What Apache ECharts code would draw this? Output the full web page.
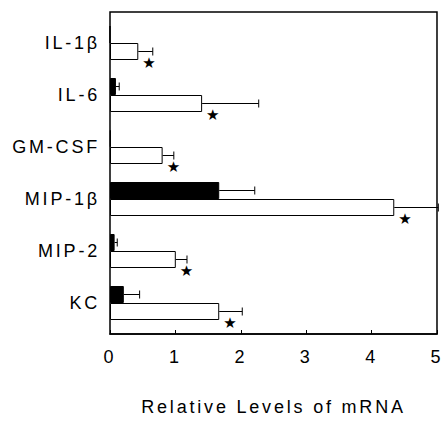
<!DOCTYPE html>
<html>
<head>
<meta charset="utf-8">
<script src="https://cdn.jsdelivr.net/npm/echarts@6/dist/echarts.min.js"></script>
<style>
  html, body { margin: 0; padding: 0; background: #fff; }
  #chart { width: 445px; height: 421px; }
  /* the figure uses widely spaced type */
  #chart text { letter-spacing: 2.8px; }
</style>
</head>
<body>
<div id="chart"></div>
<script>
var categories = ['IL-1β', 'IL-6', 'GM-CSF', 'MIP-1β', 'MIP-2', 'KC'];
// black bars (control) and white bars (treated), with error (SD)
var blackValues = [0, 0.09, 0.01, 1.66, 0.07, 0.21];
var blackErrors = [0, 0.05, 0, 0.54, 0.04, 0.24];
var whiteValues = [0.43, 1.40, 0.80, 4.32, 1.00, 1.66];
var whiteErrors = [0.22, 0.86, 0.17, 0.67, 0.17, 0.35];
var significant = [true, true, true, true, true, true];
var xTicks = [0, 1, 2, 3, 4, 5];

var FONT = '"Liberation Sans", Arial, sans-serif';
var BAR_W = 17;

function errData(vals, errs) {
  var out = [];
  for (var i = 0; i < vals.length; i++) {
    if (errs[i] > 0) out.push([i, vals[i], vals[i] + errs[i]]);
  }
  return out;
}

function errRender(offset) {
  return function (params, api) {
    var c = api.value(0);
    var p0 = api.coord([api.value(1), c]);
    var p1 = api.coord([api.value(2), c]);
    var y = p0[1] + offset;
    var st = { stroke: '#000', lineWidth: 1 };
    return {
      type: 'group',
      children: [
        { type: 'line', shape: { x1: p0[0], y1: y, x2: p1[0], y2: y }, style: st },
        { type: 'line', shape: { x1: p1[0], y1: y - 4, x2: p1[0], y2: y + 4 }, style: st }
      ]
    };
  };
}

var chart = echarts.init(document.getElementById('chart'), null, { renderer: 'svg' });

var option = {
  animation: false,
  backgroundColor: '#fff',
  grid: [
    // frame with the value axis
    { left: 110, right: 6, top: 12, bottom: 82, show: true, borderColor: '#000', borderWidth: 1.5 },
    // bars
    { left: 110, right: 6, top: 17, bottom: 92 }
  ],
  xAxis: [
    {
      gridIndex: 0, type: 'value', min: 0, max: 5, interval: 1,
      axisLine: { show: true, lineStyle: { color: '#000', width: 1.5 } },
      axisTick: { show: true, inside: true, length: 4, lineStyle: { color: '#000' } },
      axisLabel: {
        color: '#000', fontFamily: FONT, fontSize: 18, margin: 14,
        formatter: function (v) { return xTicks.indexOf(v) >= 0 ? String(v) : ''; }
      },
      splitLine: { show: false },
      name: 'Relative Levels of mRNA', nameLocation: 'middle', nameGap: 64,
      nameTextStyle: { color: '#000', fontFamily: FONT, fontSize: 18 }
    },
    { gridIndex: 1, type: 'value', min: 0, max: 5, show: false }
  ],
  yAxis: [
    { gridIndex: 0, type: 'value', min: 0, max: 1, show: false },
    {
      gridIndex: 1, type: 'category', data: categories, inverse: true,
      axisLine: { show: false }, axisTick: { show: false },
      axisLabel: { color: '#000', fontFamily: FONT, fontSize: 18, margin: 10, padding: [6, 0, 0, 0] }
    }
  ],
  series: [
    {
      type: 'bar', xAxisIndex: 1, yAxisIndex: 1, data: blackValues,
      barWidth: BAR_W, barGap: '0%',
      itemStyle: { color: '#000', borderColor: '#000', borderWidth: 1 }
    },
    {
      type: 'bar', xAxisIndex: 1, yAxisIndex: 1,
      data: whiteValues.map(function (v, i) {
        return {
          value: v,
          label: {
            show: significant[i], position: 'right', formatter: '★',
            offset: [-1, 11], color: '#000', fontSize: 15, fontFamily: 'DejaVu Sans'
          }
        };
      }),
      barWidth: BAR_W, barGap: '0%',
      itemStyle: { color: '#fff', borderColor: '#000', borderWidth: 1 }
    },
    {
      type: 'custom', xAxisIndex: 1, yAxisIndex: 1,
      data: errData(blackValues, blackErrors),
      encode: { x: [1, 2], y: 0 },
      renderItem: errRender(-BAR_W / 2), z: 3
    },
    {
      type: 'custom', xAxisIndex: 1, yAxisIndex: 1,
      data: errData(whiteValues, whiteErrors),
      encode: { x: [1, 2], y: 0 },
      renderItem: errRender(BAR_W / 2), z: 3
    }
  ]
};

chart.setOption(option);
window.onresize = chart.resize;
</script>
</body>
</html>
